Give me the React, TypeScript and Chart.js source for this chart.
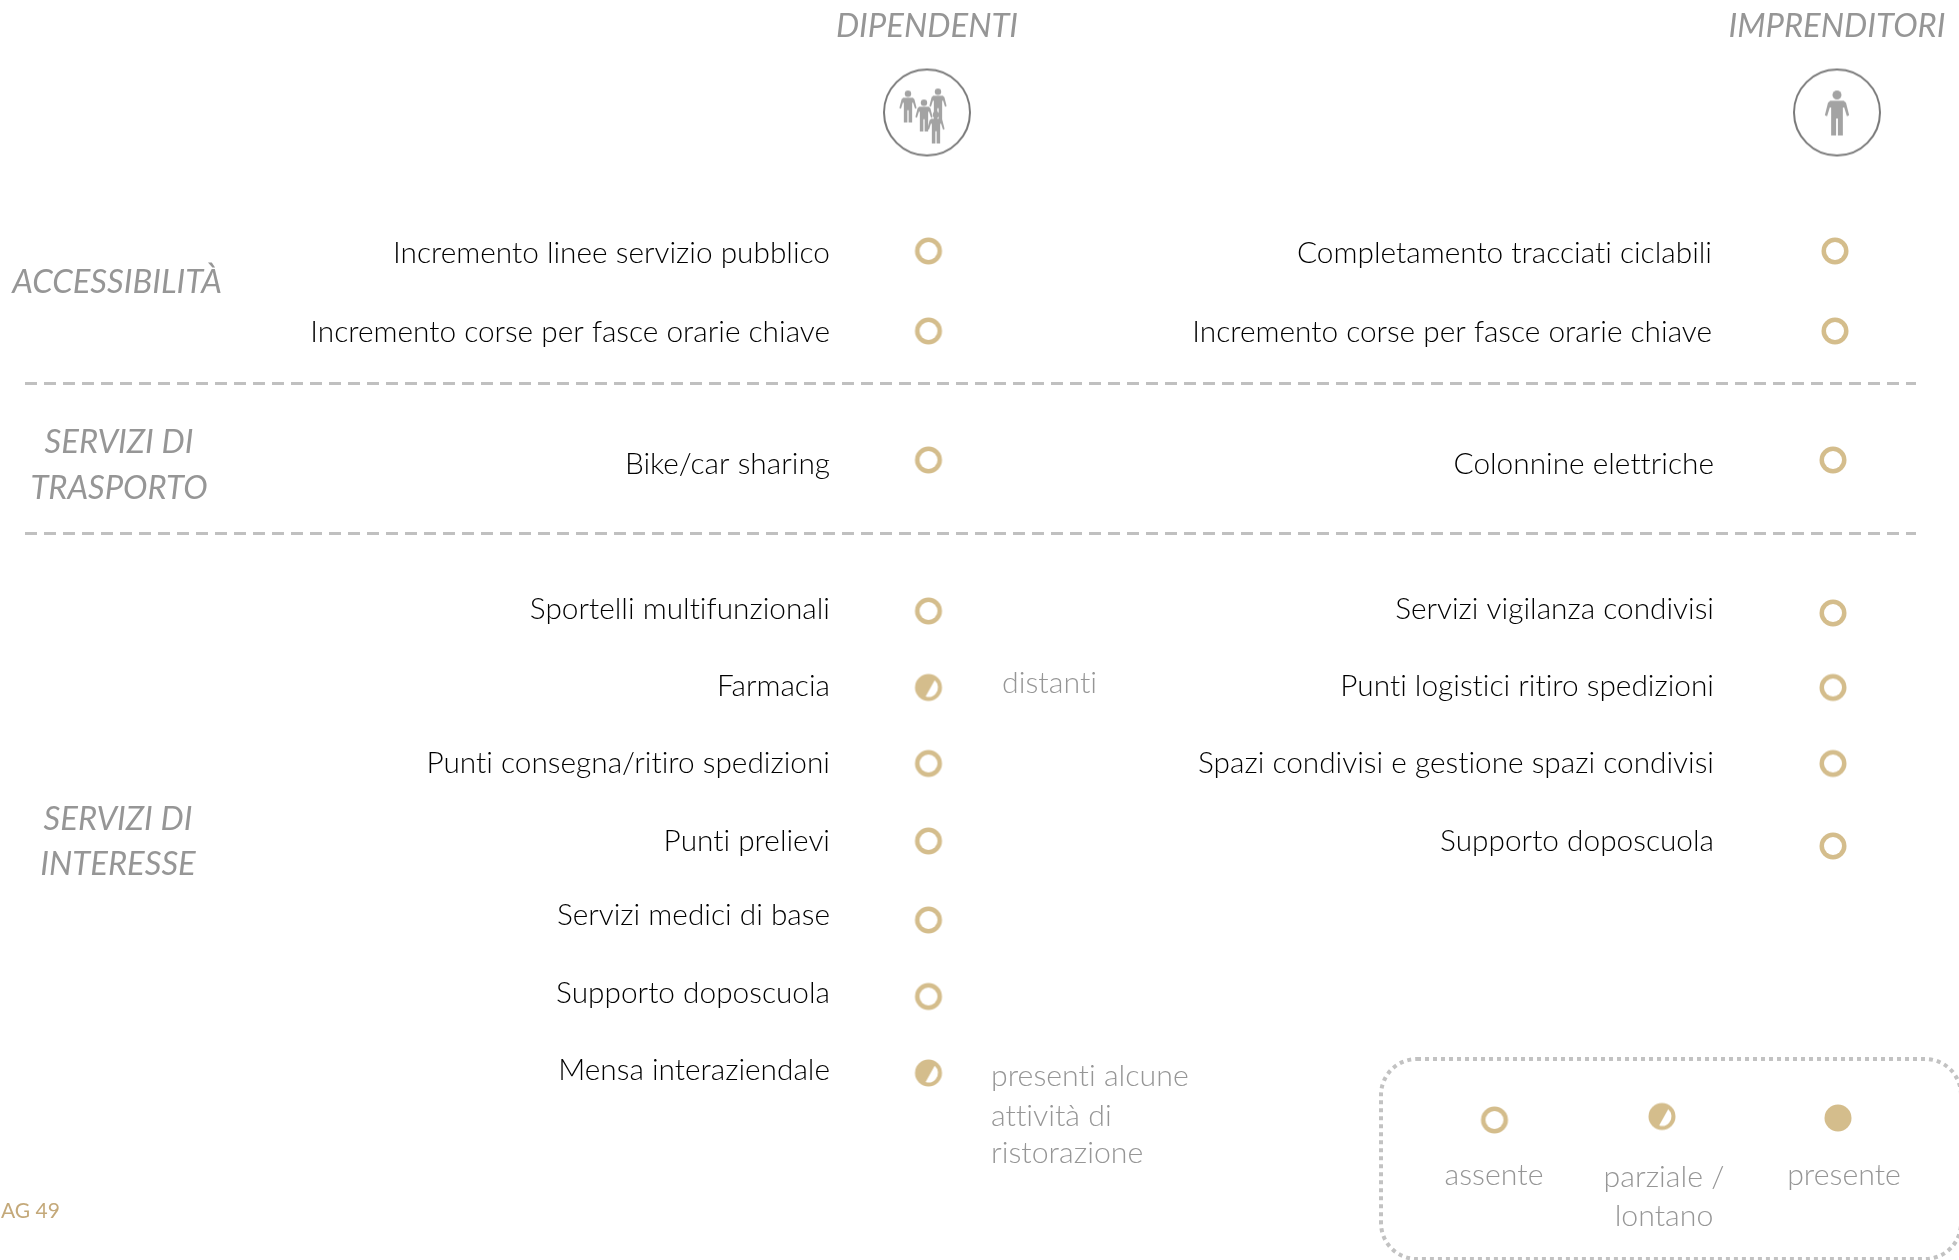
import React, { useEffect, useRef } from "react";
import { Chart, registerables } from "chart.js";

Chart.register(...registerables);

const W = 1959;
const H = 1260;

const sectionLabels = ["ACCESSIBILITÀ", "SERVIZI DI", "TRASPORTO", "SERVIZI DI", "INTERESSE"];
const sectionY = [282, 442, 488, 819, 864];
const sectionX = [117, 119, 119, 118, 118];

const headerLabels = ["DIPENDENTI", "IMPRENDITORI"];
const headerX = [927, 1837];
const headerLabelY = [26, 26];
const headerIconY = [112.5, 112.5];

const dipendentiItems = [
  "Incremento linee servizio pubblico",
  "Incremento corse per fasce orarie chiave",
  "Bike/car sharing",
  "Sportelli multifunzionali",
  "Farmacia",
  "Punti consegna/ritiro spedizioni",
  "Punti prelievi",
  "Servizi medici di base",
  "Supporto doposcuola",
  "Mensa interaziendale",
];
const dipendentiStates = [0, 0, 0, 0, 1, 0, 0, 0, 0, 1];
const dipendentiTextY = [253, 332, 464, 609, 686, 763, 841, 915, 993, 1070];
const dipendentiDotY = [251, 331, 460, 611, 687.5, 763.5, 841, 920, 996.5, 1073];
const dipendentiDotX = [928.5, 928.5, 928.5, 928.5, 928.5, 928.5, 928.5, 928.5, 928.5, 928.5];
const dipendentiTextX = [830, 830, 830, 830, 830, 830, 830, 830, 830, 830];

const imprenditoriItems = [
  "Completamento tracciati ciclabili",
  "Incremento corse per fasce orarie chiave",
  "Colonnine elettriche",
  "Servizi vigilanza condivisi",
  "Punti logistici ritiro spedizioni",
  "Spazi condivisi e gestione spazi condivisi",
  "Supporto doposcuola",
];
const imprenditoriStates = [0, 0, 0, 0, 0, 0, 0];
const imprenditoriTextY = [253, 332, 464, 609, 686, 763, 841];
const imprenditoriDotY = [251, 331, 460, 613, 687.5, 763.5, 846];
const imprenditoriDotX = [1835, 1835, 1833, 1833, 1833, 1833, 1833];
const imprenditoriTextX = [1712, 1712, 1714, 1714, 1714, 1714, 1714];

const noteLabels = ["distanti", "presenti alcune", "attività di", "ristorazione"];
const noteX = [1002, 991, 991, 991];
const noteY = [683, 1076, 1116, 1153];

const legendStates = [0, 1, 2];
const legendDotX = [1494.5, 1662, 1838];
const legendDotY = [1120, 1116.5, 1118];
const legendLabels = ["assente", "parziale /", "lontano", "presente"];
const legendLabelX = [1494, 1664, 1664, 1844];
const legendLabelY = [1175, 1177, 1216, 1175];

const separatorY = [383.5, 533.5];
const separatorX = [25, 1916];
const legendBox = { left: 1381, top: 1059, right: 1961, bottom: 1259 };
const pageTag = "AG 49";
const pageTagX = 1;
const pageTagY = 1211;

const GOLD = "#d4bd8c";
const TEXT = "#000000";
const GREY = "#969696";
const NOTE = "#969696";
const FONT = "Lato, 'Open Sans', sans-serif";

function makeCanvas(size: number) {
  const c = document.createElement("canvas");
  c.width = size;
  c.height = size;
  return c;
}

function stateIcon(state: number) {
  const c = makeCanvas(32);
  const g = c.getContext("2d")!;
  const m = 16;
  g.fillStyle = GOLD;
  g.beginPath();
  g.arc(m, m, 13.5, 0, Math.PI * 2);
  g.fill();
  if (state === 0) {
    g.fillStyle = "#fff";
    g.beginPath();
    g.arc(m, m, 9, 0, Math.PI * 2);
    g.fill();
  } else if (state === 1) {
    const a = Math.atan2(-7.5, 6.5);
    const b = Math.atan2(9.5, -3);
    g.fillStyle = "#fff";
    g.beginPath();
    g.arc(m, m, 9.5, a, b);
    g.closePath();
    g.fill();
  }
  return c;
}

function person(g: CanvasRenderingContext2D, cx: number, top: number, h: number, fill: string) {
  const P: number[][] = [
    [-0.15, 0.23], [0.15, 0.23], [0.2, 0.27], [0.27, 0.55], [0.22, 0.57], [0.16, 0.38], [0.13, 0.38],
    [0.13, 1], [0.02, 1], [0.02, 0.62], [-0.02, 0.62], [-0.02, 1], [-0.13, 1], [-0.13, 0.38],
    [-0.16, 0.38], [-0.22, 0.57], [-0.27, 0.55], [-0.2, 0.27],
  ];
  g.fillStyle = fill;
  g.beginPath();
  g.arc(cx, top + 0.1 * h, 0.1 * h, 0, Math.PI * 2);
  g.fill();
  g.beginPath();
  P.forEach(([x, y], i) => {
    if (i === 0) g.moveTo(cx + x * h, top + y * h);
    else g.lineTo(cx + x * h, top + y * h);
  });
  g.closePath();
  g.fill();
}

function headerIcon(group: boolean) {
  const c = makeCanvas(96);
  const g = c.getContext("2d")!;
  g.strokeStyle = "#7a7a7a";
  g.lineWidth = 2;
  g.beginPath();
  g.arc(48, 48, 43, 0, Math.PI * 2);
  g.stroke();
  const fig = "#a3a3a3";
  if (group) {
    person(g, 29, 26, 32, fig);
    person(g, 59, 24, 32, fig);
    person(g, 45, 35, 32, fig);
    person(g, 57, 47, 32, fig);
  } else {
    person(g, 48, 26, 45, fig);
  }
  return c;
}

const toPoints = (xs: number[], ys: number[]) => xs.map((x, i) => ({ x, y: ys[i] }));

export default function App() {
  const ref = useRef<HTMLCanvasElement>(null);

  useEffect(() => {
    const icons = [stateIcon(0), stateIcon(1), stateIcon(2)];
    const textPlugin = {
      id: "diagramText",
      afterDatasetsDraw(chart: any) {
        const { ctx, scales } = chart;
        const px = (v: number) => scales.x.getPixelForValue(v);
        const py = (v: number) => scales.y.getPixelForValue(v);
        const put = (s: string, x: number, y: number, font: string, color: string, align: CanvasTextAlign) => {
          ctx.font = font;
          ctx.fillStyle = color;
          ctx.textAlign = align;
          ctx.textBaseline = "middle";
          ctx.letterSpacing = "0.01px";
          ctx.fillText(s, px(x), py(y));
        };
        ctx.save();
        const item = `300 29.8px ${FONT}`;
        const cat = `italic 400 32.8px ${FONT}`;
        const note = `300 30.3px ${FONT}`;
        dipendentiItems.forEach((s, i) => put(s, dipendentiTextX[i], dipendentiTextY[i], item, TEXT, "right"));
        imprenditoriItems.forEach((s, i) => put(s, imprenditoriTextX[i], imprenditoriTextY[i], item, TEXT, "right"));
        sectionLabels.forEach((s, i) => put(s, sectionX[i], sectionY[i], cat, GREY, "center"));
        headerLabels.forEach((s, i) => put(s, headerX[i], headerLabelY[i], cat, GREY, "center"));
        noteLabels.forEach((s, i) => put(s, noteX[i], noteY[i], note, NOTE, "left"));
        legendLabels.forEach((s, i) => put(s, legendLabelX[i], legendLabelY[i], note, NOTE, "center"));
        put(pageTag, pageTagX, pageTagY, `400 21px ${FONT}`, "#c4a97a", "left");

        const l = px(legendBox.left), r = px(legendBox.right), t = py(legendBox.top), b = py(legendBox.bottom);
        ctx.strokeStyle = "#c2c2c2";
        ctx.lineWidth = 4;
        ctx.setLineDash([4, 4]);
        ctx.beginPath();
        ctx.roundRect(l, t, r - l, b - t, 36);
        ctx.stroke();
        ctx.restore();
      },
    };

    const separators = separatorY.map((y) => ({
      type: "line" as const,
      data: separatorX.map((x) => ({ x, y })),
      borderColor: "#c0c0c0",
      borderWidth: 3,
      borderDash: [12, 7],
      pointRadius: 0,
      fill: false,
    }));

    const stateSet = (xs: number[], ys: number[], states: number[]) => ({
      type: "scatter" as const,
      data: toPoints(xs, ys),
      pointStyle: states.map((s) => icons[s]),
      pointRadius: 14,
      pointBorderWidth: 0,
    });

    const chart = new Chart(ref.current!, {
      type: "scatter",
      data: {
        datasets: [
          ...separators,
          stateSet(dipendentiDotX, dipendentiDotY, dipendentiStates),
          stateSet(imprenditoriDotX, imprenditoriDotY, imprenditoriStates),
          stateSet(legendDotX, legendDotY, legendStates),
          {
            type: "scatter" as const,
            data: toPoints(headerX, headerIconY),
            pointStyle: [headerIcon(true), headerIcon(false)],
            pointRadius: 48,
            pointBorderWidth: 0,
          },
        ] as any,
      },
      options: {
        animation: false,
        responsive: false,
        maintainAspectRatio: false,
        layout: { padding: 0, autoPadding: false },
        events: [],
        plugins: { legend: { display: false }, tooltip: { enabled: false }, title: { display: false } },
        scales: {
          x: { type: "linear", min: 0, max: W, display: false },
          y: { type: "linear", min: 0, max: H, reverse: true, display: false },
        },
      },
      plugins: [textPlugin],
    });
    return () => chart.destroy();
  }, []);

  return (
    <div style={{ position: "fixed", left: 0, top: 0, width: W, height: H, background: "#fff" }}>
      <canvas ref={ref} width={W} height={H} style={{ display: "block" }} />
    </div>
  );
}
